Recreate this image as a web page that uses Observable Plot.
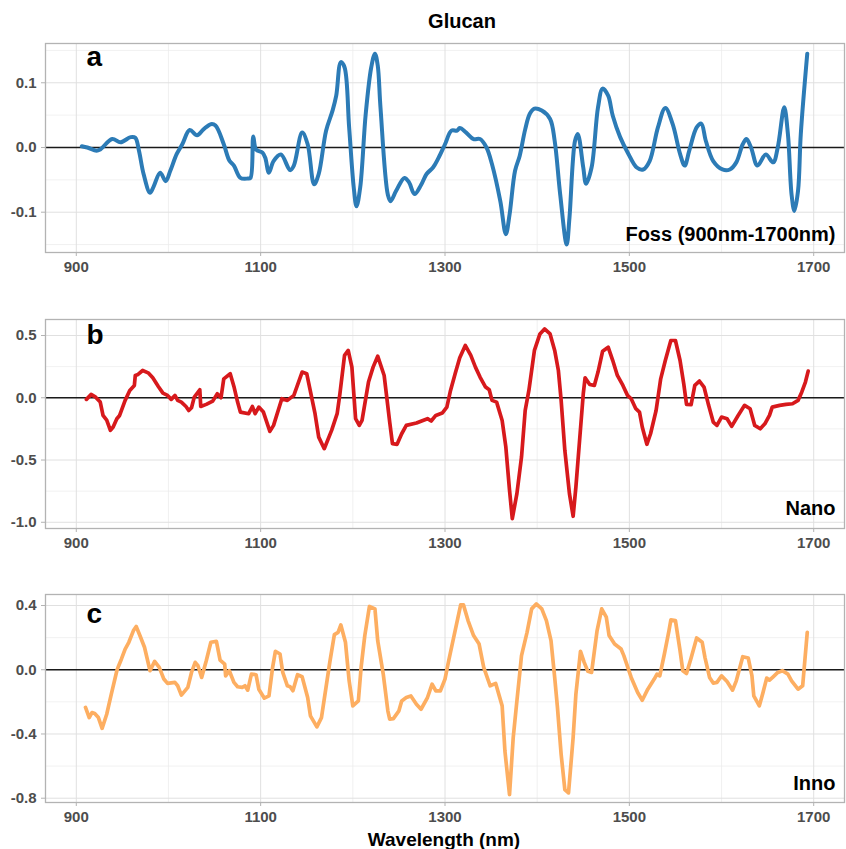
<!DOCTYPE html>
<html><head><meta charset="utf-8">
<script src="https://cdn.jsdelivr.net/npm/d3@7"></script>
<script src="https://cdn.jsdelivr.net/npm/@observablehq/plot@0.6"></script>
<style>
body{margin:0;background:#fff;font-family:"Liberation Sans",Arial,Helvetica,sans-serif;}
#wrap{position:relative;width:846px;height:849px;overflow:hidden;background:#fff}
.p{position:absolute;left:0}
#title{position:absolute;left:462px;top:11px;transform:translateX(-50%);font-weight:bold;font-size:20px;line-height:20px;white-space:nowrap;color:#000}
#xlab{position:absolute;left:444px;top:830px;transform:translateX(-50%);font-weight:bold;font-size:19px;line-height:19px;white-space:nowrap;color:#000}
</style></head><body>
<div id="wrap">
<div id="title">Glucan</div>
<div id="pa" class="p" style="top:33px"></div>
<div id="pb" class="p" style="top:309px"></div>
<div id="pc" class="p" style="top:584px"></div>
<div id="xlab">Wavelength (nm)</div>
</div>
<script>
const xTicks = [900, 1100, 1300, 1500, 1700];
const xMinor = [1000, 1200, 1400, 1600];

const fossNm = [906,912,922,926,939,948,959,964,968,973,980,984,991,997,1002,1009,1015,1023,1031,1038,1046,1051,1060,1066,1071,1078,1086,1089,1092,1095,1102,1105,1109,1114,1122,1132,1136,1145,1151,1158,1163,1171,1178,1182,1187,1191,1196,1201,1204,1208,1214,1220,1224,1227,1230,1238,1241,1247,1256,1261,1267,1274,1280,1287,1293,1300,1307,1313,1316,1323,1331,1338,1345,1351,1360,1366,1370,1376,1381,1387,1392,1397,1405,1414,1419,1425,1432,1435,1441,1444,1450,1453,1459,1466,1471,1477,1482,1490,1499,1508,1515,1522,1531,1539,1547,1555,1560,1565,1573,1578,1583,1591,1601,1609,1616,1623,1627,1632,1639,1648,1656,1661,1668,1672,1676,1679,1683,1686,1693];
const fossVal = [0.002,0,-0.005,-0.003,0.013,0.008,0.016,0.015,-0.005,-0.041,-0.070,-0.060,-0.039,-0.052,-0.036,-0.010,0.005,0.027,0.019,0.028,0.036,0.034,0.005,-0.020,-0.028,-0.047,-0.048,-0.047,0.017,-0.003,-0.008,-0.016,-0.039,-0.021,-0.011,-0.035,-0.028,0.023,0.005,-0.057,-0.041,0.026,0.057,0.080,0.132,0.124,0.031,-0.062,-0.091,-0.062,0.052,0.124,0.145,0.127,0.062,-0.073,-0.083,-0.067,-0.047,-0.054,-0.072,-0.058,-0.041,-0.031,-0.016,0.005,0.026,0.026,0.030,0.023,0.013,0.013,0,-0.026,-0.083,-0.134,-0.104,-0.036,-0.013,0.028,0.052,0.060,0.057,0.044,0.010,-0.073,-0.150,-0.109,0.010,0.021,-0.031,-0.056,-0.031,0.062,0.091,0.080,0.049,0.016,-0.010,-0.031,-0.034,-0.021,0.031,0.061,0.036,-0.010,-0.028,-0.005,0.031,0.037,0.010,-0.021,-0.034,-0.034,-0.023,0.005,0.013,0,-0.028,-0.011,-0.023,0,0.062,0.021,-0.073,-0.098,-0.067,0.021,0.145];

const nanoNm = [911,916,921,926,929,933,937,940,944,947,953,958,963,964,967,972,978,983,989,994,999,1003,1007,1010,1014,1019,1022,1025,1028,1034,1035,1041,1048,1053,1057,1060,1067,1071,1075,1078,1087,1091,1094,1098,1103,1110,1114,1123,1129,1136,1145,1150,1159,1163,1169,1177,1183,1186,1191,1195,1199,1203,1207,1210,1217,1222,1227,1234,1240,1243,1248,1253,1258,1269,1276,1281,1285,1290,1297,1302,1306,1311,1316,1322,1328,1333,1338,1344,1348,1351,1356,1362,1366,1370,1373,1378,1383,1387,1391,1397,1403,1408,1414,1419,1423,1426,1430,1435,1439,1442,1446,1450,1452,1457,1462,1466,1471,1477,1482,1487,1493,1498,1502,1507,1511,1514,1519,1523,1529,1534,1539,1545,1550,1555,1559,1562,1567,1571,1576,1581,1586,1591,1595,1600,1606,1611,1618,1625,1631,1636,1642,1647,1652,1655,1663,1670,1677,1683,1687,1691,1694];
const nanoVal = [-0.013,0.027,0.005,-0.035,-0.142,-0.18,-0.262,-0.235,-0.168,-0.142,-0.021,0.059,0.099,0.179,0.187,0.219,0.2,0.16,0.091,0.037,0.019,-0.013,0.019,-0.021,-0.035,-0.07,-0.102,-0.08,0.005,0.064,-0.07,-0.053,-0.027,0.032,0,0.152,0.193,0.091,-0.035,-0.115,-0.128,-0.07,-0.128,-0.075,-0.115,-0.27,-0.222,-0.008,-0.021,0.019,0.206,0.193,-0.128,-0.316,-0.409,-0.262,-0.128,0.032,0.34,0.38,0.246,-0.168,-0.222,-0.182,0.126,0.246,0.334,0.179,-0.195,-0.369,-0.374,-0.289,-0.222,-0.203,-0.182,-0.168,-0.187,-0.142,-0.123,-0.075,0.059,0.193,0.321,0.42,0.34,0.246,0.166,0.086,0.064,-0.021,-0.035,-0.182,-0.396,-0.743,-0.971,-0.77,-0.476,-0.102,0.059,0.38,0.513,0.553,0.513,0.38,0.219,-0.021,-0.422,-0.77,-0.952,-0.717,-0.342,0.032,0.16,0.107,0.099,0.206,0.374,0.406,0.299,0.179,0.099,0.019,-0.008,-0.088,-0.115,-0.235,-0.374,-0.289,-0.102,0.152,0.299,0.46,0.46,0.299,0.112,-0.053,-0.056,0.099,0.134,0.086,-0.061,-0.195,-0.222,-0.155,-0.168,-0.23,-0.142,-0.061,-0.088,-0.222,-0.249,-0.209,-0.142,-0.075,-0.061,-0.053,-0.048,-0.021,0.045,0.126,0.214];

const innoNm = [910,914,917,920,924,928,933,938,944,946,949,953,957,962,965,969,974,977,980,985,990,995,999,1007,1010,1014,1021,1025,1029,1032,1036,1041,1046,1052,1056,1061,1062,1066,1071,1075,1080,1083,1086,1090,1095,1098,1104,1109,1113,1116,1121,1124,1129,1132,1135,1140,1145,1151,1154,1161,1166,1169,1175,1180,1184,1187,1192,1196,1200,1206,1209,1213,1218,1224,1227,1233,1238,1240,1244,1250,1253,1258,1263,1269,1274,1281,1286,1290,1295,1300,1304,1311,1317,1320,1325,1331,1337,1342,1349,1355,1362,1365,1370,1374,1378,1381,1383,1389,1394,1399,1405,1410,1415,1419,1422,1426,1430,1434,1439,1442,1447,1451,1455,1459,1465,1470,1475,1478,1484,1491,1494,1502,1509,1514,1520,1527,1530,1533,1538,1543,1545,1550,1555,1558,1562,1567,1573,1579,1582,1587,1591,1595,1600,1606,1612,1616,1623,1629,1633,1635,1641,1645,1649,1652,1656,1661,1666,1672,1676,1683,1688,1693];
const innoVal = [-0.235,-0.298,-0.267,-0.273,-0.298,-0.365,-0.277,-0.152,-0.006,0.025,0.067,0.129,0.171,0.244,0.269,0.213,0.14,0.067,-0.006,0.052,0.015,-0.058,-0.085,-0.079,-0.1,-0.158,-0.11,-0.017,0.046,0.025,-0.048,0.056,0.171,0.177,0.06,0.035,-0.038,-0.006,-0.079,-0.106,-0.11,-0.1,-0.127,-0.027,-0.031,-0.121,-0.177,-0.163,0.015,0.115,0.098,-0.017,-0.1,-0.106,-0.131,-0.031,-0.044,-0.173,-0.287,-0.356,-0.298,-0.183,0.046,0.219,0.233,0.279,0.171,-0.069,-0.225,-0.194,0.015,0.213,0.394,0.379,0.181,-0.027,-0.256,-0.308,-0.304,-0.256,-0.194,-0.173,-0.163,-0.215,-0.246,-0.173,-0.09,-0.131,-0.131,-0.058,0.056,0.244,0.404,0.404,0.306,0.213,0.16,0.015,-0.1,-0.085,-0.225,-0.506,-0.777,-0.423,-0.194,-0.027,0.088,0.233,0.379,0.41,0.379,0.306,0.181,-0.048,-0.235,-0.527,-0.746,-0.767,-0.423,-0.152,0.115,0.046,-0.01,-0.017,0.244,0.379,0.327,0.213,0.16,0.129,0.088,-0.048,-0.142,-0.19,-0.121,-0.058,-0.027,-0.038,0.098,0.244,0.31,0.306,0.119,-0.006,-0.023,0.073,0.198,0.171,0.077,-0.048,-0.083,-0.079,-0.038,-0.073,-0.127,-0.069,0.081,0.073,-0.038,-0.163,-0.225,-0.142,-0.052,-0.065,-0.044,-0.017,-0.006,-0.027,-0.069,-0.121,-0.1,0.233];

const fossTicks = [-0.1, 0.0, 0.1];
const fossMinor = [-0.15, -0.05, 0.05, 0.15];
const nanoTicks = [-1.0, -0.5, 0.0, 0.5];
const nanoMinor = [-0.75, -0.25, 0.25];
const innoTicks = [-0.8, -0.4, 0.0, 0.4];
const innoMinor = [-0.6, -0.2, 0.2];

const panelLetters = ["a", "b", "c"];
const panelNames = ["Foss (900nm-1700nm)", "Nano", "Inno"];
const panelColors = ["#2c7bb6", "#d7191c", "#fdae61"];

function panel(nm, val, yDomain, yMajor, yMinorT, letter, name, color, curve, lw, height, frameH, letterDy, nameDy) {
  const data = nm.map((x, i) => ({x, y: val[i]}));
  return Plot.plot({
    width: 846, height,
    marginLeft: 45, marginRight: 2, marginTop: 10, marginBottom: height - 10 - frameH,
    style: {fontFamily: "'Liberation Sans', Arial, sans-serif", fontSize: "15px", fontWeight: "bold", background: "#fff", overflow: "visible"},
    x: {domain: [866.6, 1733.4]},
    y: {domain: yDomain},
    marks: [
      Plot.gridX(xMinor, {stroke: "#ebebeb", strokeOpacity: 1, strokeWidth: 0.7}),
      Plot.gridY(yMinorT, {stroke: "#ebebeb", strokeOpacity: 1, strokeWidth: 0.7}),
      Plot.gridX(xTicks, {stroke: "#e0e0e0", strokeOpacity: 1, strokeWidth: 1}),
      Plot.gridY(yMajor, {stroke: "#e0e0e0", strokeOpacity: 1, strokeWidth: 1}),
      Plot.axisX({ticks: xTicks, tickFormat: d => String(d), tickSize: 4, tickPadding: 5, stroke: "#b3b3b3", fill: "#4d4d4d", label: null, fontSize: 15, fontWeight: "bold"}),
      Plot.axisY({ticks: yMajor, tickFormat: d => d.toFixed(1), tickSize: 4, tickPadding: 5, stroke: "#b3b3b3", fill: "#4d4d4d", label: null, fontSize: 15, fontWeight: "bold"}),
      Plot.ruleY([0], {stroke: "#1a1a1a", strokeWidth: 1.6}),
      Plot.line(data, {x: "x", y: "y", stroke: color, strokeWidth: lw, curve}),
      Plot.frame({stroke: "#b3b3b3", strokeWidth: 1.3}),
      Plot.text([letter], {frameAnchor: "top-left", dx: 41, dy: letterDy, textAnchor: "start", lineAnchor: "bottom", fontSize: 28, fontWeight: "bold", fill: "#000"}),
      Plot.text([name], {frameAnchor: "bottom-right", dx: -9, dy: nameDy, textAnchor: "end", lineAnchor: "bottom", fontSize: 20, fontWeight: "bold", fill: "#000"})
    ]
  });
}

document.getElementById("pa").append(panel(fossNm, fossVal, [-0.1623, 0.1607], fossTicks, fossMinor, panelLetters[0], panelNames[0], panelColors[0], "catmull-rom", 4, 244, 209, 22, -12));
document.getElementById("pb").append(panel(nanoNm, nanoVal, [-1.050, 0.6285], nanoTicks, nanoMinor, panelLetters[1], panelNames[1], panelColors[1], "linear", 3.7, 244, 209, 24, -14));
document.getElementById("pc").append(panel(innoNm, innoVal, [-0.8267, 0.4685], innoTicks, innoMinor, panelLetters[2], panelNames[2], panelColors[2], "linear", 3.7, 243, 208, 28, -13));
</script>
</body></html>
